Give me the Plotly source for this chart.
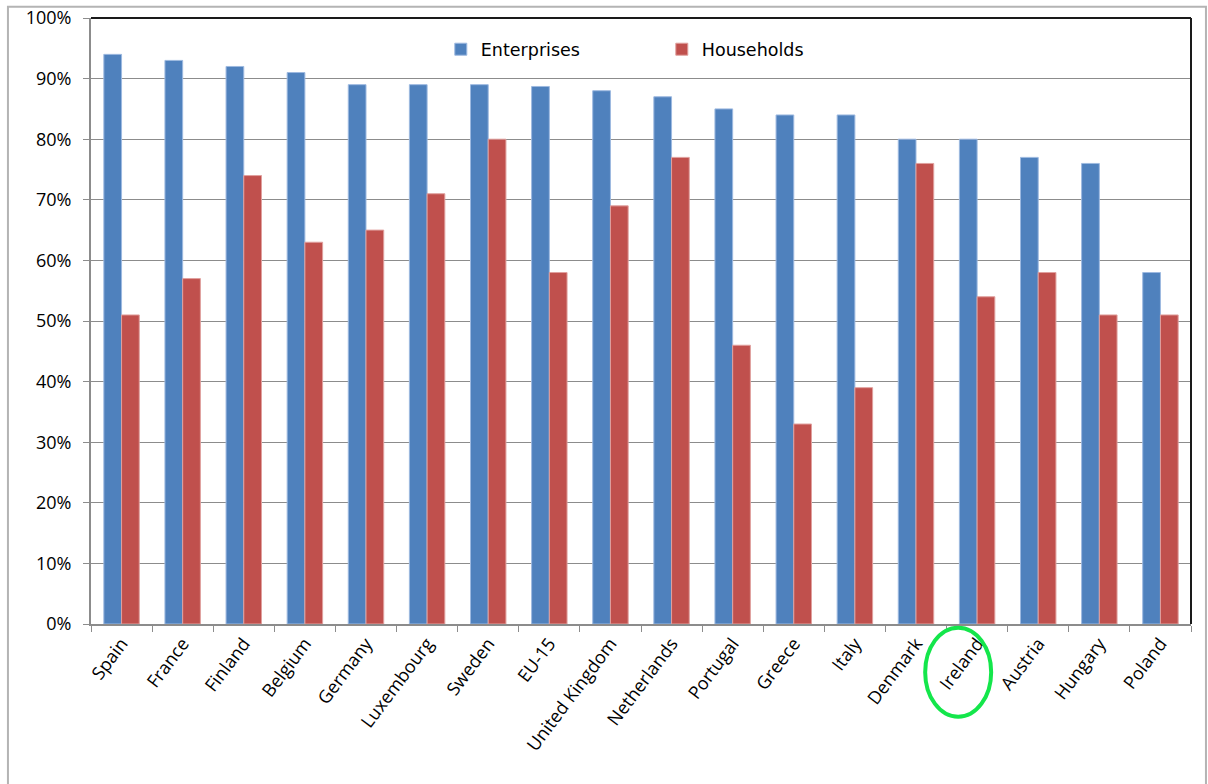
import plotly.graph_objects as go

# Share of enterprises and households with internet access, by country
countries = ["Spain", "France", "Finland", "Belgium", "Germany", "Luxembourg",
             "Sweden", "EU-15", "United Kingdom", "Netherlands", "Portugal",
             "Greece", "Italy", "Denmark", "Ireland", "Austria", "Hungary", "Poland"]
enterprises = [94, 93, 92, 91, 89, 89, 89, 88.7, 88, 87, 85, 84, 84, 80, 80, 77, 76, 58]
households = [51, 57, 74, 63, 65, 71, 80, 58, 69, 77, 46, 33, 39, 76, 54, 58, 51, 51]

highlight = "Ireland"

BLUE = "#4F81BD"
RED = "#C0504D"
GRID = "#8C8C8C"

fig = go.Figure()
fig.add_trace(go.Bar(
    x=countries, y=enterprises, name="Enterprises",
    marker=dict(color=BLUE, line=dict(color="#9DB9E0", width=1)),
))
fig.add_trace(go.Bar(
    x=countries, y=households, name="Households",
    marker=dict(color=RED, line=dict(color="#E0A09E", width=1)),
))

x_font = dict(family="Open Sans, Liberation Sans, sans-serif", size=18, color="#000000")
y_font = dict(family="Open Sans, Liberation Sans, sans-serif", size=18, color="#000000")

fig.update_layout(
    width=1208, height=784,
    margin=dict(l=91, r=17, t=18, b=160),
    paper_bgcolor="white", plot_bgcolor="white",
    barmode="group", bargap=0.42, bargroupgap=0,
    showlegend=True,
    legend=dict(
        orientation="h", x=0.318, y=0.978, xanchor="left", yanchor="top",
        font=dict(family="DejaVu Sans, sans-serif", size=17.5, color="#000000"),
        entrywidth=176, entrywidthmode="pixels",
        bgcolor="rgba(0,0,0,0)", itemclick=False,
    ),
    xaxis=dict(
        type="category", tickangle=-53, tickfont=x_font, automargin=False,
        showline=True, linecolor=GRID, linewidth=2,
        ticks="outside", tickson="boundaries", ticklen=6, tickcolor=GRID, tickwidth=1,
        showgrid=False,
    ),
    yaxis=dict(
        range=[0, 100], dtick=10, ticksuffix="%", tickfont=y_font, automargin=False,
        showline=True, linecolor=GRID, linewidth=2,
        ticks="outside", ticklen=6, tickcolor=GRID,
        ticklabelstandoff=8,
        showgrid=True, gridcolor=GRID, gridwidth=1,
        zeroline=False,
    ),
    shapes=[
        # dark frame on the top and right of the plot area
        dict(type="line", xref="paper", yref="paper", x0=0, x1=1, y0=1, y1=1,
             line=dict(color="#1A1A1A", width=2), layer="above"),
        dict(type="line", xref="paper", yref="paper", x0=1, x1=1, y0=0, y1=1,
             line=dict(color="#1A1A1A", width=2), layer="above"),
        # light border around the whole chart
        dict(type="rect", xref="paper", yref="paper",
             x0=-0.0755, x1=1.0136, y0=-0.28, y1=1.0185,
             line=dict(color="#B4B4B4", width=2), layer="below"),
    ],
)

# green ring around the highlighted country label
hi = countries.index(highlight)
fig.add_shape(type="circle", xref="x", yref="paper",
              x0=hi - 0.85, x1=hi + 0.23, y0=-0.153, y1=-0.006,
              line=dict(color="#14E64B", width=4))

fig.write_html("out.html")
